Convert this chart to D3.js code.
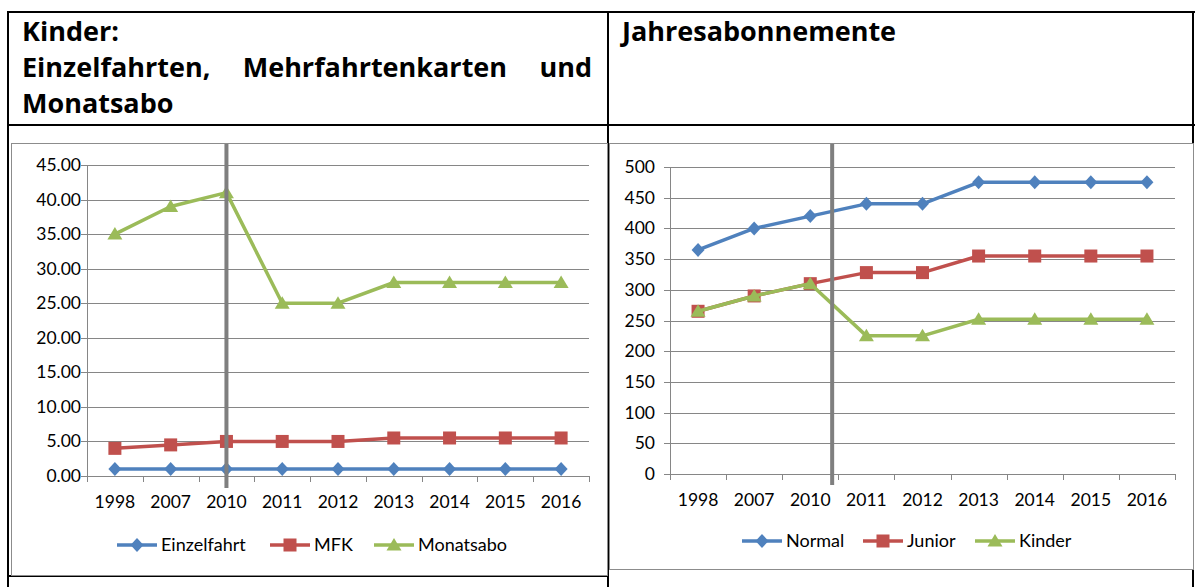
<!DOCTYPE html>
<html>
<head>
<meta charset="utf-8">
<script src="https://cdn.jsdelivr.net/npm/d3@7"></script>
<style>
  body { margin: 0; background: #fff; }
  text { font-family: Lato, "Open Sans", sans-serif; fill: #000; }
  .head { font-family: "Open Sans", sans-serif; font-weight: 700; font-size: 27px; }
</style>
</head>
<body>
<svg id="page" width="1195" height="587"></svg>
<script>
// categories
const years = ["1998", "2007", "2010", "2011", "2012", "2013", "2014", "2015", "2016"];

// left chart: Kinder
const einzelfahrt = [1, 1, 1, 1, 1, 1, 1, 1, 1];
const mfk = [4.0, 4.5, 5.0, 5.0, 5.0, 5.5, 5.5, 5.5, 5.5];
const monatsabo = [35, 39, 41, 25, 25, 28, 28, 28, 28];
const leftTicks = [0, 5, 10, 15, 20, 25, 30, 35, 40, 45];

// right chart: Jahresabonnemente
const normal = [365, 400, 420, 440, 440, 475, 475, 475, 475];
const junior = [265, 290, 310, 328, 328, 355, 355, 355, 355];
const kinder = [265, 290, 310, 225, 225, 252, 252, 252, 252];
const rightTicks = [0, 50, 100, 150, 200, 250, 300, 350, 400, 450, 500];

const blue = "#4f81bd", red = "#c0504d", green = "#9bbb59", grid = "#868686";

const svg = d3.select("#page");

// ---- table frame ----
const tbl = svg.append("g").attr("stroke", "#000").attr("stroke-width", 2);
tbl.append("line").attr("x1", 7).attr("x2", 1195).attr("y1", 12).attr("y2", 12);
tbl.append("line").attr("x1", 7).attr("x2", 1195).attr("y1", 125).attr("y2", 125);
tbl.append("line").attr("x1", 8).attr("x2", 8).attr("y1", 11).attr("y2", 587);
tbl.append("line").attr("x1", 608).attr("x2", 608).attr("y1", 11).attr("y2", 587);
tbl.append("line").attr("x1", 1193).attr("x2", 1193).attr("y1", 11).attr("y2", 587);
tbl.append("line").attr("x1", 7).attr("x2", 608).attr("y1", 576).attr("y2", 576);

// ---- headers ----
svg.append("text").attr("class", "head").attr("x", 22).attr("y", 41).text("Kinder:");
// justified second line
const words = ["Einzelfahrten,", "Mehrfahrtenkarten", "und"];
const wt = svg.append("g");
const wEls = words.map(w => wt.append("text").attr("class", "head").attr("y", 77).text(w));
const widths = wEls.map(t => t.node().getComputedTextLength());
const lineL = 22, lineR = 592;
const gap = (lineR - lineL - d3.sum(widths)) / (words.length - 1);
let cx = lineL;
wEls.forEach((t, i) => { t.attr("x", cx); cx += widths[i] + gap; });
svg.append("text").attr("class", "head").attr("x", 22).attr("y", 113).text("Monatsabo");
svg.append("text").attr("class", "head").attr("x", 622).attr("y", 41).text("Jahresabonnemente");

// ---- marker shapes ----
function marker(g, type, color) {
  if (type === "diamond") {
    g.append("path").attr("d", "M0,-7L6.5,0L0,7L-6.5,0Z").attr("fill", color);
  } else if (type === "square") {
    g.append("rect").attr("x", -6.5).attr("y", -6.5).attr("width", 13).attr("height", 13).attr("fill", color);
  } else {
    g.append("path").attr("d", "M0,-7L7.5,5.5L-7.5,5.5Z").attr("fill", color);
  }
}

function drawChart(cfg) {
  const g = svg.append("g");
  g.append("rect")
    .attr("x", cfg.frame[0] + 0.5).attr("y", cfg.frame[1] + 0.5)
    .attr("width", cfg.frame[2]).attr("height", cfg.frame[3])
    .attr("fill", "#fff").attr("stroke", "#8c8c8c");

  const x = d3.scaleBand().domain(years).range([cfg.x0, cfg.x1]).padding(0);
  const y = d3.scaleLinear().domain([0, d3.max(cfg.ticks)]).range([cfg.y0, cfg.y1]);
  const xc = d => x(d) + x.bandwidth() / 2;

  // gridlines + y ticks
  g.append("g").selectAll("line").data(cfg.ticks).join("line")
    .attr("x1", cfg.x0 - 6).attr("x2", cfg.x1)
    .attr("y1", d => Math.round(y(d)) + 0.5).attr("y2", d => Math.round(y(d)) + 0.5)
    .attr("stroke", grid);
  g.append("line").attr("x1", cfg.x0 + 0.5).attr("x2", cfg.x0 + 0.5)
    .attr("y1", cfg.y1).attr("y2", cfg.y0 + 6).attr("stroke", grid);
  // x tick marks at band edges
  const edges = years.map(d => x(d)).concat([cfg.x1]);
  g.append("g").selectAll("line").data(edges).join("line")
    .attr("x1", d => Math.round(d) + 0.5).attr("x2", d => Math.round(d) + 0.5)
    .attr("y1", cfg.y0).attr("y2", cfg.y0 + 6).attr("stroke", grid);

  // y labels
  g.append("g").selectAll("text").data(cfg.ticks).join("text")
    .attr("x", cfg.x0 - cfg.labelGap).attr("y", d => y(d) + 6)
    .attr("text-anchor", "end").style("font-size", "17.5px")
    .text(cfg.fmt);
  // x labels
  g.append("g").selectAll("text").data(years).join("text")
    .attr("x", xc).attr("y", cfg.y0 + 32)
    .attr("text-anchor", "middle").style("font-size", "17.5px")
    .text(d => d);

  // series
  const line = d3.line().x((d, i) => xc(years[i])).y(d => y(d));
  cfg.series.forEach(s => {
    g.append("path").attr("d", line(s.values)).attr("fill", "none")
      .attr("stroke", s.color).attr("stroke-width", 3.5).attr("stroke-linejoin", "round");
    g.append("g").selectAll("g").data(s.values).join("g")
      .attr("transform", (d, i) => `translate(${xc(years[i])},${y(d)})`)
      .each(function () { marker(d3.select(this), s.shape, s.color); });
  });

  // grey divider line
  const mx = cfg.x0 + cfg.markIndex * x.bandwidth();
  g.append("line").attr("x1", mx).attr("x2", mx)
    .attr("y1", cfg.frame[1] + 1).attr("y2", cfg.markBottom)
    .attr("stroke", "#7f7f7f").attr("stroke-width", 4);

  // legend
  cfg.series.forEach((s, i) => {
    const lx = cfg.legendX[i];
    const lg = g.append("g").attr("transform", `translate(${lx},${cfg.legendY})`);
    lg.append("line").attr("x1", 0).attr("x2", 40).attr("stroke", s.color).attr("stroke-width", 3.5);
    marker(lg.append("g").attr("transform", "translate(20,0)"), s.shape, s.color);
    lg.append("text").attr("x", 44).attr("y", 6).style("font-size", "18px").text(s.name);
  });
}

drawChart({
  frame: [11, 143, 596, 432],
  x0: 87, x1: 589, y0: 476, y1: 165,
  ticks: leftTicks, fmt: d3.format(".2f"), labelGap: 6,
  markIndex: 2.5, markBottom: 488,
  legendY: 545, legendX: [117, 270, 374],
  series: [
    { name: "Einzelfahrt", values: einzelfahrt, color: blue, shape: "diamond" },
    { name: "MFK", values: mfk, color: red, shape: "square" },
    { name: "Monatsabo", values: monatsabo, color: green, shape: "triangle" }
  ]
});

drawChart({
  frame: [609, 143, 584, 426],
  x0: 670, x1: 1175, y0: 474, y1: 167,
  ticks: rightTicks, fmt: d3.format("d"), labelGap: 15,
  markIndex: 2.89, markBottom: 485,
  legendY: 541, legendX: [742, 863, 975],
  series: [
    { name: "Normal", values: normal, color: blue, shape: "diamond" },
    { name: "Junior", values: junior, color: red, shape: "square" },
    { name: "Kinder", values: kinder, color: green, shape: "triangle" }
  ]
});
</script>
</body>
</html>
